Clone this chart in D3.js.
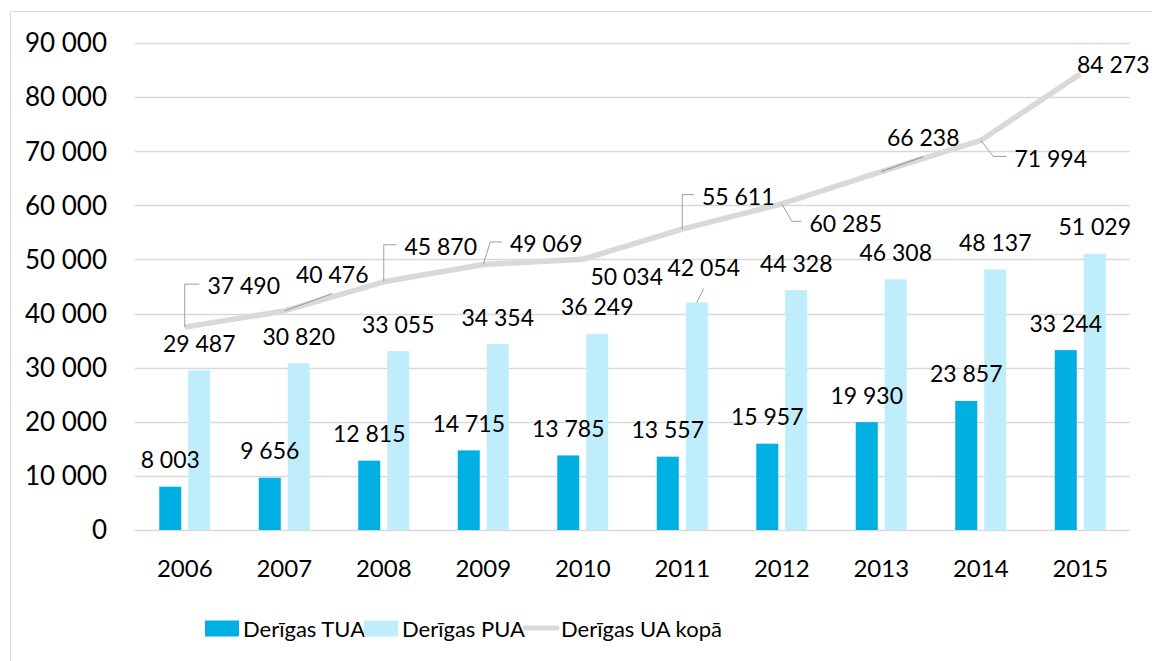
<!DOCTYPE html>
<html>
<head>
<meta charset="utf-8">
<script src="https://cdn.jsdelivr.net/npm/d3@7"></script>
<style>
  body { margin: 0; background: #fff; }
  text { font-family: Lato, "Open Sans", sans-serif; fill: #000; }
</style>
</head>
<body>
<div id="plot"></div>
<script>
// data
const years = ["2006", "2007", "2008", "2009", "2010", "2011", "2012", "2013", "2014", "2015"];
const tua = [8003, 9656, 12815, 14715, 13785, 13557, 15957, 19930, 23857, 33244];
const pua = [29487, 30820, 33055, 34354, 36249, 42054, 44328, 46308, 48137, 51029];
const total = [37490, 40476, 45870, 49069, 50034, 55611, 60285, 66238, 71994, 84273];
const yTicks = [0, 10000, 20000, 30000, 40000, 50000, 60000, 70000, 80000, 90000];
const seriesNames = ["Derīgas TUA", "Derīgas PUA", "Derīgas UA kopā"];

// label placement for the total line (label centre relative to the point) and leader style
const totalLabelOffsets = [[59, -41], [48, -36], [57, -35], [63, -20.5], [44, 17.5],
                           [56, -32.5], [64, 19.5], [42, -33.5], [70, 18], [33, -9]];
const totalLeaders = [["elbow", 0], ["diag"], ["elbow", 0], ["elbow", 7], ["none"],
                      ["elbow", 0], ["elbow", 10], ["diag"], ["elbow", 12.5], ["none"]];

const W = 1152, H = 661;
const margin = {top: 43, right: 22, bottom: 131, left: 135};
const colTUA = "#00B0E3", colPUA = "#BFEDFB", colLine = "#D9D9D9", colLeader = "#9E9E9E";

const fmt = v => d3.format(",")(v).replace(/,/g, " ");

const svg = d3.select("#plot").append("svg")
    .attr("width", W).attr("height", H);

svg.append("rect").attr("width", W).attr("height", H).attr("fill", "#fff");
svg.append("rect")
    .attr("x", 10.5).attr("y", 11.5).attr("width", W).attr("height", H)
    .attr("fill", "none").attr("stroke", "#D9D9D9").attr("stroke-width", 1);

const x = d3.scaleBand().domain(years).range([margin.left, W - margin.right]);
const x1 = d3.scaleBand().domain(["tua", "pua"]).range([-25.5, 25.5]).paddingInner(0.24);
const y = d3.scaleLinear().domain([0, 90000]).range([H - margin.bottom, margin.top]);
const cx = d => x(d) + x.bandwidth() / 2;

// grid
svg.append("g").selectAll("line")
    .data(yTicks).join("line")
    .attr("x1", margin.left).attr("x2", W - margin.right)
    .attr("y1", d => Math.round(y(d)) + 0.5).attr("y2", d => Math.round(y(d)) + 0.5)
    .attr("stroke", "#D9D9D9").attr("stroke-width", 1.4);

// y axis labels
svg.append("g").selectAll("text")
    .data(yTicks).join("text")
    .attr("x", 107).attr("y", d => y(d)).attr("dy", "0.36em")
    .attr("text-anchor", "end").style("font-size", "26px")
    .text(fmt);

// x axis labels
svg.append("g").selectAll("text")
    .data(years).join("text")
    .attr("x", cx).attr("y", 577)
    .attr("text-anchor", "middle").style("font-size", "24px")
    .text(d => d);

// bars
const bars = [
  {key: "tua", vals: tua, color: colTUA},
  {key: "pua", vals: pua, color: colPUA}
];
bars.forEach(s => {
  svg.append("g").selectAll("rect")
    .data(years).join("rect")
    .attr("x", d => cx(d) + x1(s.key))
    .attr("width", x1.bandwidth())
    .attr("y", (d, i) => y(s.vals[i]))
    .attr("height", (d, i) => y(0) - y(s.vals[i]))
    .attr("fill", s.color);
});

// total line
const line = d3.line().x((d, i) => cx(years[i])).y(d => y(d));
svg.append("path")
    .datum(total)
    .attr("d", line)
    .attr("fill", "none").attr("stroke", colLine)
    .attr("stroke-width", 5.5).attr("stroke-linejoin", "round");

// bar labels
bars.forEach(s => {
  years.forEach((yr, i) => {
    const bx = cx(yr) + x1(s.key) + x1.bandwidth() / 2;
    const top = y(s.vals[i]);
    let lx = bx, ly = top - 18.5;
    if (s.key === "pua" && yr === "2011") {
      lx = bx + 7; ly = top - 26;
      svg.append("line")
        .attr("x1", bx).attr("y1", top).attr("x2", lx).attr("y2", top - 14)
        .attr("stroke", colLeader).attr("stroke-width", 1);
    }
    svg.append("text")
      .attr("x", lx).attr("y", ly)
      .attr("text-anchor", "middle").style("font-size", "23px")
      .text(fmt(s.vals[i]));
  });
});

// total labels with leader lines
total.forEach((v, i) => {
  const px = cx(years[i]), py = y(v);
  const lx = px + totalLabelOffsets[i][0], ly = py + totalLabelOffsets[i][1];
  const label = svg.append("text")
    .attr("x", lx).attr("y", ly).attr("dy", "0.36em")
    .attr("text-anchor", "middle").style("font-size", "23px")
    .text(fmt(v));
  const w = label.node().getComputedTextLength();
  const lead = totalLeaders[i];
  if (lead[0] === "elbow") {
    const cy = ly - 2;
    svg.append("path")
      .attr("d", `M${px},${py}L${px + lead[1]},${cy}L${lx - w / 2 - 8},${cy}`)
      .attr("fill", "none").attr("stroke", colLeader).attr("stroke-width", 1);
  } else if (lead[0] === "diag") {
    svg.append("line")
      .attr("x1", px).attr("y1", py).attr("x2", lx).attr("y2", ly + 18.5)
      .attr("stroke", colLeader).attr("stroke-width", 1.2);
  }
});

// legend
const legend = svg.append("g");
const legendX = [205, 364, 523];
seriesNames.forEach((name, i) => {
  if (i < 2) {
    legend.append("rect")
      .attr("x", legendX[i]).attr("y", 620.5).attr("width", 34).attr("height", 16)
      .attr("fill", i === 0 ? colTUA : colPUA);
  } else {
    legend.append("line")
      .attr("x1", legendX[i] + 2).attr("x2", legendX[i] + 34)
      .attr("y1", 628).attr("y2", 628)
      .attr("stroke", colLine).attr("stroke-width", 5).attr("stroke-linecap", "round");
  }
  legend.append("text")
    .attr("x", legendX[i] + 38).attr("y", 636.5)
    .style("font-size", "22px")
    .text(name);
});
</script>
</body>
</html>
